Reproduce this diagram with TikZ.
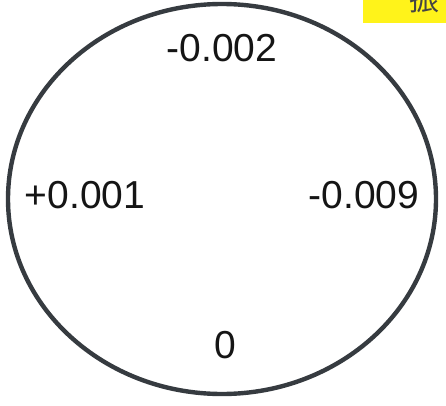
\documentclass[tikz,border=0pt]{standalone}
\usepackage{fontspec}
\setmainfont{Liberation Sans}
\newfontfamily\jpfont{Noto Sans CJK JP}
\usepackage{xcolor}
\usetikzlibrary{shapes.geometric}
\definecolor{rim}{HTML}{363B40}
\definecolor{hilite}{HTML}{FFF31A}
\definecolor{ink}{HTML}{151515}
\tikzset{
  ring/.style ={ellipse, draw=rim, line width=4.4pt, inner sep=0pt},
  val/.style  ={font=\fontsize{39}{42}\selectfont, text=ink, inner sep=0pt},
  hl/.style   ={fill=hilite, draw=none},
}

\begin{document}
\begin{tikzpicture}[x=1pt,y=1pt]
  % page is the reference frame in pixels, origin bottom left
  \useasboundingbox (0,0) rectangle (446,405);
  \clip (0,0) rectangle (446,405);
  \def\cx{222}
  \def\cy{206}

  % highlighted tag, cut off by the frame
  \fill[hl] (363,382) rectangle (446,405);
  \node[font=\jpfont\fontsize{30}{30}\selectfont, text=ink!80, inner sep=0pt,
        anchor=south west] (tag) at (409,392) {振};

  % the outline
  \node[ring, minimum width=428pt, minimum height=390pt] (rim) at (\cx,\cy) {};

  % readings at the four sides
  \node[val] (top)   at (\cx,357)  {-0.002};
  \node[val] (left)  at (85,210)   {+0.001};
  \node[val] (right) at (364,210)  {-0.009};
  \node[val] (bot)   at (225,60)   {0};
\end{tikzpicture}
\end{document}
